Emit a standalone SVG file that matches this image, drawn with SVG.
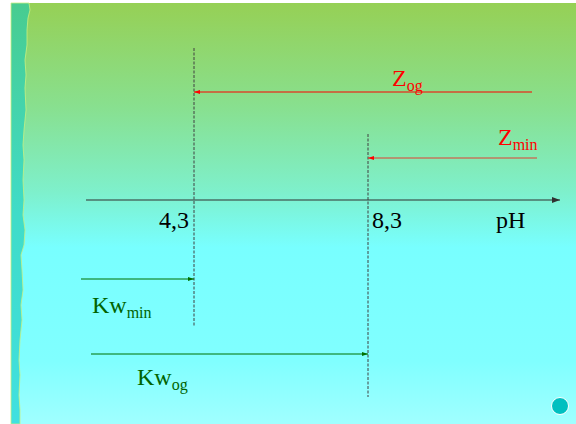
<svg xmlns="http://www.w3.org/2000/svg" width="576" height="424" viewBox="0 0 576 424">
<defs>
<linearGradient id="bg" x1="0" y1="0" x2="0" y2="1">
<stop offset="0" stop-color="#96d055"/>
<stop offset="0.25" stop-color="#88e090"/>
<stop offset="0.45" stop-color="#7ef0cc"/>
<stop offset="0.58" stop-color="#78ffff"/>
<stop offset="0.85" stop-color="#80ffff"/>
<stop offset="1" stop-color="#a0ffff"/>
</linearGradient>
<linearGradient id="strip" x1="0" y1="0" x2="0" y2="1">
<stop offset="0" stop-color="#48cc90"/>
<stop offset="0.5" stop-color="#40dcc8"/>
<stop offset="1" stop-color="#40e0e0"/>
</linearGradient>
<marker id="ak" markerWidth="8" markerHeight="6" refX="8" refY="3" orient="auto" markerUnits="userSpaceOnUse"><path d="M0,0 L8,3 L0,6 Z" fill="#303030"/></marker>
<marker id="ar" markerWidth="6" markerHeight="4" refX="6" refY="2" orient="auto" markerUnits="userSpaceOnUse"><path d="M0,0 L6,2 L0,4 Z" fill="#ff0000"/></marker>
<marker id="ag" markerWidth="6" markerHeight="4" refX="6" refY="2" orient="auto" markerUnits="userSpaceOnUse"><path d="M0,0 L6,2 L0,4 Z" fill="#007000"/></marker>
</defs>
<style>
.t{font-family:"Liberation Serif","Times New Roman",serif;font-size:24px}
.s{font-size:16px}
.dash{stroke:#404040;stroke-width:1;stroke-dasharray:3,1.5;fill:none}
.red{fill:#ff0000}
.grn{fill:#006400}
</style>
<rect x="0" y="0" width="576" height="424" fill="#ffffff"/>
<rect x="11" y="3" width="565" height="421" fill="url(#bg)"/>
<path d="M11,3 L29,3 L30,10 L28,18 L27,30 L27,45 L25,60 L26,75 L25,88 L26,110 L24,130 L23,145 L24,160 L23,180 L24,200 L23,215 L25,230 L24,245 L21,255 L22,270 L23,290 L21,305 L22,320 L20,340 L19,360 L20,375 L19,395 L20,410 L20,424 L11,424 Z" fill="url(#strip)" stroke="#c8f080" stroke-width="0.8"/>
<g id="connectors">
<line x1="86" y1="200" x2="560" y2="200" stroke="#303030" stroke-width="1.2" marker-end="url(#ak)"/>
<line class="dash" x1="194" y1="48" x2="194" y2="326"/>
<line class="dash" x1="368" y1="134" x2="368" y2="397"/>
<line x1="532" y1="92" x2="194" y2="92" stroke="#ff0000" stroke-width="1" marker-end="url(#ar)"/>
<line x1="537" y1="158" x2="368" y2="158" stroke="#e04030" stroke-width="1" marker-end="url(#ar)"/>
<line x1="81" y1="279" x2="194" y2="279" stroke="#007000" stroke-width="1" marker-end="url(#ag)"/>
<line x1="91" y1="354" x2="368" y2="354" stroke="#007000" stroke-width="1" marker-end="url(#ag)"/>
</g>
<g id="zog"><text class="t red" x="392" y="86">Z<tspan class="s" dy="5">og</tspan></text></g>
<g id="zmin"><text class="t red" x="498" y="145">Z<tspan class="s" dy="5">min</tspan></text></g>
<g id="l43"><text class="t" x="189" y="228" text-anchor="end" fill="#000">4,3</text></g>
<g id="l83"><text class="t" x="372" y="228" fill="#000">8,3</text></g>
<g id="ph"><text class="t" x="496" y="228" fill="#000">pH</text></g>
<g id="kwmin"><text class="t grn" x="92" y="313">Kw<tspan class="s" dy="5">min</tspan></text></g>
<g id="kwog"><text class="t grn" x="137" y="385">Kw<tspan class="s" dy="5">og</tspan></text></g>
<circle cx="560" cy="406" r="8.5" fill="#00c0c0" stroke="#ffffff" stroke-width="1"/>
</svg>
